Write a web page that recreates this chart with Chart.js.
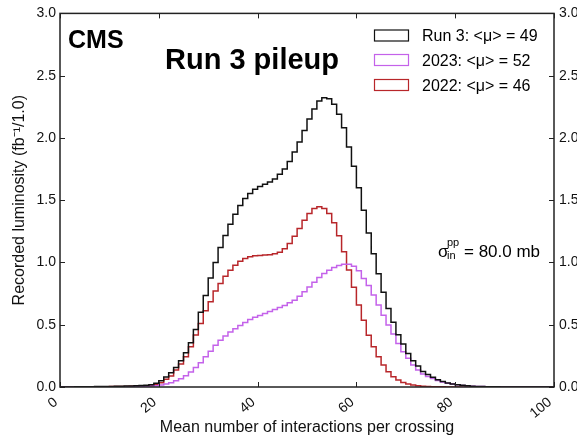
<!DOCTYPE html>
<html>
<head>
<meta charset="utf-8">
<script src="https://cdn.jsdelivr.net/npm/chart.js@4/dist/chart.umd.min.js"></script>
<style>
  body { margin: 0; background: #fff; }
  #wrap { width: 577px; height: 436px; }
</style>
</head>
<body>
<div id="wrap"><canvas id="pileup" width="577" height="436"></canvas></div>
<script>
// Recorded luminosity per unit of mean pileup, bins [i, i+1) for i = 0..99
const run3Lumi = [
  0, 0.001, 0.001, 0.002, 0.002, 0.003, 0.003, 0.004, 0.004, 0.005,
  0.005, 0.006, 0.007, 0.008, 0.009, 0.010, 0.012, 0.014, 0.018, 0.030,
  0.050, 0.080, 0.115, 0.157, 0.210, 0.275, 0.355, 0.462, 0.600, 0.735,
  0.876, 1.000, 1.120, 1.216, 1.307, 1.387, 1.457, 1.513, 1.553, 1.588,
  1.610, 1.628, 1.647, 1.670, 1.708, 1.750, 1.810, 1.887, 1.967, 2.060,
  2.152, 2.232, 2.296, 2.323, 2.315, 2.270, 2.190, 2.082, 1.927, 1.772,
  1.600, 1.420, 1.237, 1.070, 0.910, 0.760, 0.630, 0.520, 0.420, 0.345,
  0.270, 0.210, 0.168, 0.125, 0.100, 0.078, 0.058, 0.044, 0.033, 0.025,
  0.019, 0.014, 0.010, 0.007, 0.005, 0.004, 0.003, 0.002, 0.002, 0.001,
  0.001, 0.001, 0.001, 0.001, 0, 0, 0, 0, 0, 0
];
const lumi2023 = [
  0, 0, 0, 0, 0.001, 0.001, 0.001, 0.001, 0.001, 0.001,
  0.002, 0.002, 0.002, 0.003, 0.003, 0.004, 0.005, 0.006, 0.008, 0.011,
  0.016, 0.024, 0.035, 0.051, 0.067, 0.091, 0.120, 0.157, 0.195, 0.243,
  0.288, 0.336, 0.376, 0.409, 0.441, 0.467, 0.494, 0.518, 0.542, 0.561,
  0.574, 0.590, 0.606, 0.622, 0.638, 0.654, 0.676, 0.697, 0.729, 0.764,
  0.804, 0.842, 0.879, 0.911, 0.938, 0.959, 0.975, 0.985, 0.986, 0.970,
  0.933, 0.872, 0.815, 0.738, 0.658, 0.577, 0.497, 0.425, 0.350, 0.283,
  0.230, 0.176, 0.136, 0.104, 0.085, 0.068, 0.053, 0.041, 0.031, 0.024,
  0.018, 0.013, 0.010, 0.007, 0.005, 0.004, 0.003, 0.002, 0.002, 0.001,
  0.001, 0.001, 0.001, 0, 0, 0, 0, 0, 0, 0
];
const lumi2022 = [
  0, 0.001, 0.001, 0.001, 0.002, 0.002, 0.002, 0.003, 0.003, 0.003,
  0.004, 0.004, 0.005, 0.005, 0.006, 0.007, 0.008, 0.010, 0.012, 0.020,
  0.035, 0.062, 0.088, 0.136, 0.184, 0.243, 0.323, 0.417, 0.510, 0.612,
  0.684, 0.770, 0.831, 0.890, 0.938, 0.978, 1.010, 1.032, 1.045, 1.053,
  1.056, 1.059, 1.061, 1.069, 1.083, 1.110, 1.152, 1.211, 1.273, 1.340,
  1.393, 1.433, 1.447, 1.433, 1.393, 1.318, 1.214, 1.086, 0.940, 0.800,
  0.658, 0.537, 0.415, 0.323, 0.243, 0.176, 0.123, 0.083, 0.056, 0.037,
  0.024, 0.016, 0.011, 0.007, 0.005, 0.003, 0.002, 0.002, 0.001, 0,
  0, 0, 0, 0, 0, 0, 0, 0, 0, 0,
  0, 0, 0, 0, 0, 0, 0, 0, 0, 0
];

const seriesLabels = ['Run 3: <\u03bc> = 49', '2023: <\u03bc> = 52', '2022: <\u03bc> = 46'];
const seriesColors = ['#111111', '#c462ea', '#b8262a'];
const xTicks = [0, 20, 40, 60, 80, 100];
const yTicks = [0, 0.5, 1.0, 1.5, 2.0, 2.5, 3.0];

// histogram points at left bin edges, plus closing edge
function toSteps(vals) {
  const pts = vals.map((v, i) => ({ x: i, y: v }));
  pts.push({ x: vals.length, y: vals[vals.length - 1] });
  return pts;
}

Chart.defaults.font.family = '"Liberation Sans", Arial, sans-serif';
Chart.defaults.color = '#111';

// frame, inward ticks, and the text annotations
const decorations = {
  id: 'decorations',
  afterDatasetsDraw(chart) {
    const { ctx, chartArea: a, scales } = chart;
    ctx.save();
    ctx.strokeStyle = '#222';
    ctx.lineWidth = 1;
    ctx.beginPath();
    xTicks.forEach(v => {
      const px = Math.round(scales.x.getPixelForValue(v)) + 0.5;
      ctx.moveTo(px, a.bottom); ctx.lineTo(px, a.bottom - 5);
      ctx.moveTo(px, a.top); ctx.lineTo(px, a.top + 5);
    });
    yTicks.forEach(v => {
      const py = Math.round(scales.y.getPixelForValue(v)) + 0.5;
      ctx.moveTo(a.left, py); ctx.lineTo(a.left + 5, py);
      ctx.moveTo(a.right, py); ctx.lineTo(a.right - 5, py);
    });
    ctx.stroke();
    ctx.lineWidth = 1.5;
    ctx.strokeRect(a.left, a.top, a.right - a.left, a.bottom - a.top);

    ctx.fillStyle = '#000';
    ctx.textBaseline = 'alphabetic';
    ctx.textAlign = 'left';
    ctx.font = 'bold 25px "Liberation Sans", Arial, sans-serif';
    ctx.fillText('CMS', 68, 48);
    ctx.font = 'bold 29px "Liberation Sans", Arial, sans-serif';
    ctx.fillText('Run 3 pileup', 165, 69);

    // legend
    ctx.font = '16px "Liberation Sans", Arial, sans-serif';
    const rows = [35.5, 60, 85];
    seriesLabels.forEach((lab, i) => {
      ctx.strokeStyle = seriesColors[i];
      ctx.lineWidth = 1.2;
      ctx.strokeRect(374.5, rows[i] - 5.5, 34, 11);
      ctx.fillStyle = '#000';
      ctx.fillText(lab, 422, rows[i] + 5.5);
    });

    // cross-section note
    ctx.font = '17px "Liberation Sans", Arial, sans-serif';
    ctx.fillText('\u03c3', 438, 257);
    ctx.font = '11px "Liberation Sans", Arial, sans-serif';
    ctx.fillText('pp', 447, 246);
    ctx.fillText('in', 447, 259);
    ctx.font = '17px "Liberation Sans", Arial, sans-serif';
    ctx.fillText('= 80.0 mb', 464, 257);
    ctx.restore();
  }
};

const mkSet = (vals, i) => ({
  label: seriesLabels[i],
  data: toSteps(vals),
  borderColor: seriesColors[i],
  borderWidth: 1.5,
  stepped: 'before',
  pointRadius: 0,
  fill: false
});

new Chart(document.getElementById('pileup'), {
  type: 'line',
  data: {
    datasets: [mkSet(run3Lumi, 0), mkSet(lumi2023, 1), mkSet(lumi2022, 2)]
  },
  options: {
    responsive: false,
    animation: false,
    layout: { padding: { top: 13, left: 0, right: 0, bottom: 0 } },
    plugins: { legend: { display: false }, tooltip: { enabled: false } },
    scales: {
      x: {
        type: 'linear',
        min: 0, max: 100,
        afterFit(s) { s.height = 49; },
        afterBuildTicks(s) { s.ticks = xTicks.map(v => ({ value: v })); },
        grid: { display: false, drawTicks: false },
        border: { display: false },
        ticks: { minRotation: 40, maxRotation: 40, padding: 7, labelOffset: -4, font: { size: 14 }, color: '#111' },
        title: { display: true, text: 'Mean number of interactions per crossing', font: { size: 16 }, padding: { top: 0, bottom: -1 }, color: '#111' }
      },
      y: {
        position: 'left',
        min: 0, max: 3,
        afterFit(s) { s.width = 60; },
        afterBuildTicks(s) { s.ticks = yTicks.map(v => ({ value: v })); },
        grid: { display: false, drawTicks: false },
        border: { display: false },
        ticks: { padding: 4, font: { size: 14 }, color: '#111', callback: v => v.toFixed(1) },
        title: { display: true, text: 'Recorded luminosity (fb\u207b\u00b9/1.0)', font: { size: 16 }, padding: { top: 10, bottom: 0 }, color: '#111' }
      },
      y2: {
        position: 'right',
        min: 0, max: 3,
        afterFit(s) { s.width = 23; },
        afterBuildTicks(s) { s.ticks = yTicks.map(v => ({ value: v })); },
        grid: { display: false, drawTicks: false },
        border: { display: false },
        ticks: { padding: 5, font: { size: 14 }, color: '#111', callback: v => v.toFixed(1) }
      }
    }
  },
  plugins: [decorations]
});
</script>
</body>
</html>
